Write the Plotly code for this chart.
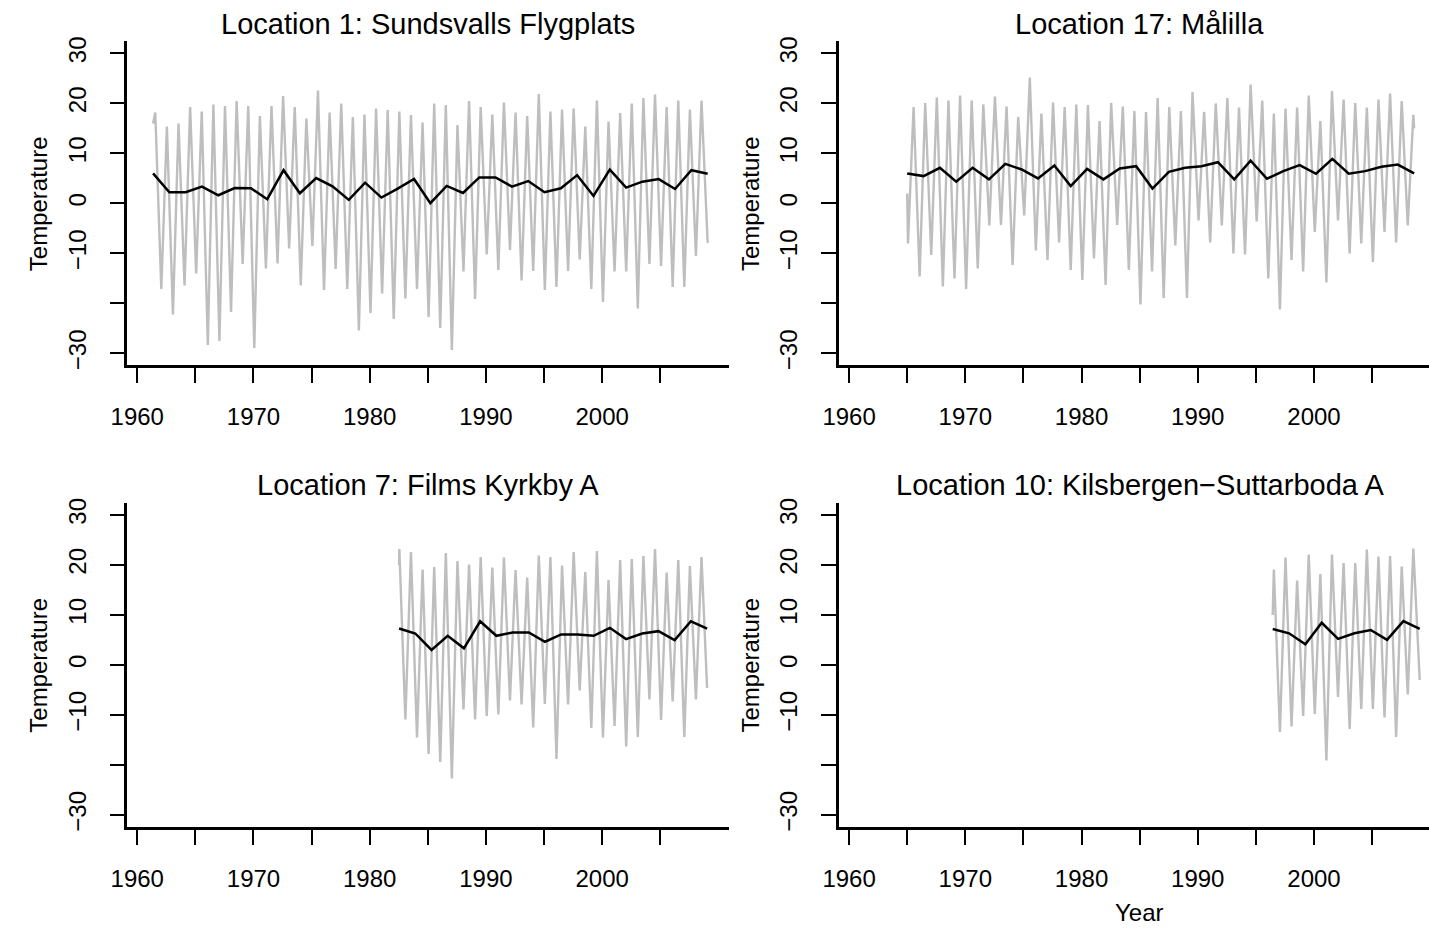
import numpy as np
import plotly.graph_objects as go

# ---------------- data ----------------
# Location 1: Sundsvalls Flygplats
loc1_years = list(range(1961, 2009))
loc1_summer_max = [18.2, 15.4, 16.0, 19.3, 18.4, 19.8, 19.5, 20.5, 19.5, 17.5,
                   19.5, 21.5, 19.3, 17.0, 22.6, 18.2, 20.0, 17.3, 17.8, 19.0,
                   18.7, 18.4, 17.7, 16.2, 20.0, 19.7, 15.7, 20.5, 19.3, 17.8,
                   20.2, 18.2, 17.5, 21.9, 18.4, 18.8, 19.0, 15.4, 20.6, 16.4,
                   18.1, 20.0, 21.1, 21.8, 19.3, 20.6, 18.8, 20.6]
loc1_winter_min = [None, -17.1, -22.2, -16.4, -14.0, -28.3, -27.5, -21.7, -12.1, -28.9,
                   -13.0, -12.0, -9.0, -16.4, -8.5, -17.3, -13.1, -17.1, -25.4, -21.9,
                   -18.0, -23.1, -19.0, -17.1, -22.7, -24.9, -29.3, -13.6, -19.1, -10.2,
                   -13.3, -9.3, -15.4, -13.5, -17.3, -16.7, -13.5, -11.2, -17.1, -19.7,
                   -13.6, -13.6, -21.0, -12.1, -12.5, -16.7, -16.7, -10.5]
loc1_span = [1961.36, 2009.08]
loc1_first_last = [16.0, -7.9]
loc1_means = [6.0, 2.24, 2.24, 3.36, 1.64, 3.09, 3.03, 0.85, 6.65, 2.04,
              5.07, 3.42, 0.72, 4.15, 1.18, 2.95, 4.9, 0.06, 3.5, 2.1,
              5.2, 5.2, 3.36, 4.48, 2.24, 3.03, 5.66, 1.51, 6.78, 3.16,
              4.35, 4.87, 2.89, 6.65, 5.93]

# Location 17: Målilla
loc17_years = list(range(1965, 2009))
loc17_summer_max = [19.3, 20.1, 21.2, 20.6, 21.6, 20.6, 19.8, 21.4, 19.4, 17.3,
                    25.2, 18.0, 20.2, 19.3, 19.8, 19.7, 16.5, 20.1, 19.4, 18.5,
                    18.3, 21.1, 19.3, 18.5, 22.3, 18.3, 20.0, 21.1, 19.2, 23.8,
                    20.6, 18.0, 19.0, 19.2, 21.6, 16.5, 22.5, 20.8, 20.1, 19.2,
                    20.8, 22.0, 20.5, 17.7]
loc17_winter_min = [-8.0, -14.6, -10.3, -16.6, -15.0, -17.1, -13.0, -4.4, -4.3, -12.3,
                    -2.4, -9.4, -11.3, -7.8, -13.3, -15.3, -11.0, -16.3, -4.3, -13.3,
                    -20.2, -13.6, -18.9, -8.4, -18.9, -3.4, -7.8, -4.4, -10.0, -10.2,
                    -3.6, -15.0, -21.2, -11.3, -13.6, -5.7, -15.8, -3.4, -10.0, -8.0,
                    -11.7, -5.7, -7.8, -4.4]
loc17_span = [1965.0, 2008.62]
loc17_first_last = [2.0, 15.0]
loc17_means = [6.0, 5.47, 7.12, 4.35, 7.12, 4.81, 7.91, 6.79, 5.01, 7.58,
               3.49, 6.9, 4.81, 6.99, 7.45, 2.97, 6.33, 7.12, 7.45, 8.24,
               4.81, 8.57, 4.94, 6.46, 7.65, 5.93, 8.9, 5.93, 6.46, 7.32,
               7.78, 6.0]

# Location 7: Films Kyrkby A
loc7_years = list(range(1982, 2009))
loc7_summer_max = [23.2, 22.6, 19.1, 19.6, 22.4, 20.8, 20.1, 21.6, 19.5, 21.5,
                   19.0, 17.5, 21.9, 21.6, 19.9, 22.6, 18.6, 22.8, 17.0, 21.0,
                   21.2, 21.8, 23.2, 18.5, 21.0, 19.8, 21.6]
loc7_winter_min = [None, -10.9, -14.5, -17.8, -19.4, -22.7, -8.9, -10.9, -10.2, -9.9,
                   -7.1, -7.9, -12.5, -7.8, -18.8, -7.9, -5.1, -12.6, -14.5, -12.2,
                   -16.3, -14.4, -6.9, -11.0, -7.3, -14.4, -6.9]
loc7_span = [1982.53, 2009.03]
loc7_first_last = [20.0, -4.6]
loc7_means = [7.28, 6.29, 2.99, 5.83, 3.32, 8.73, 5.83, 6.49, 6.49, 4.64,
              6.1, 6.1, 5.83, 7.42, 5.17, 6.29, 6.76, 4.98, 8.73, 7.28]

# Location 10: Kilsbergen-Suttarboda A
loc10_years = list(range(1996, 2009))
loc10_summer_max = [19.1, 21.5, 16.9, 22.1, 18.2, 22.1, 20.4, 20.4, 23.1, 21.7,
                    21.8, 19.7, 23.3]
loc10_winter_min = [None, -13.4, -12.3, -10.2, -9.8, -19.1, -6.4, -12.8, -8.8, -8.8,
                    -10.5, -14.4, -5.9]
loc10_span = [1996.45, 2009.1]
loc10_first_last = [10.0, -3.0]
loc10_means = [7.19, 6.33, 4.15, 8.44, 5.21, 6.33, 6.99, 5.01, 8.77, 7.19]

titles = ["Location 1: Sundsvalls Flygplats", "Location 17: Målilla",
          "Location 7: Films Kyrkby A", "Location 10: Kilsbergen\u2212Suttarboda A"]
x_ticks = [1960, 1965, 1970, 1975, 1980, 1985, 1990, 1995, 2000, 2005]
x_tick_text = ["1960", "", "1970", "", "1980", "", "1990", "", "2000", ""]
y_ticks = [-30, -20, -10, 0, 10, 20, 30]
y_tick_text = ["\u221230", "", "\u221210", "0", "10", "20", "30"]

# ---------------- layout constants ----------------
W, H = 1429, 933
WIN_PHASE, SUM_PHASE = 0.07, 0.55
FONT = "Liberation Sans, Arial, Helvetica, sans-serif"
GREY = "#BEBEBE"


def grey_series(years, smax, smin, span, first_last):
    t = [span[0]]
    v = [first_last[0]]
    for yr, hi, lo in zip(years, smax, smin):
        if lo is not None and yr + WIN_PHASE > t[-1]:
            t.append(yr + WIN_PHASE)
            v.append(lo)
        if yr + SUM_PHASE > t[-1]:
            t.append(yr + SUM_PHASE)
            v.append(hi)
    t.append(span[1])
    v.append(first_last[1])
    return t, v


panels = [
    dict(years=loc1_years, smax=loc1_summer_max, smin=loc1_winter_min, span=loc1_span,
         fl=loc1_first_last, means=loc1_means, col=0, row=0),
    dict(years=loc17_years, smax=loc17_summer_max, smin=loc17_winter_min, span=loc17_span,
         fl=loc17_first_last, means=loc17_means, col=1, row=0),
    dict(years=loc7_years, smax=loc7_summer_max, smin=loc7_winter_min, span=loc7_span,
         fl=loc7_first_last, means=loc7_means, col=0, row=1),
    dict(years=loc10_years, smax=loc10_summer_max, smin=loc10_winter_min, span=loc10_span,
         fl=loc10_first_last, means=loc10_means, col=1, row=1),
]

# pixel geometry of the plot regions
col_x0 = [111.6, 831.7]          # left edge of plot box
col_x1 = [721.0, 1429.0]         # right edge (right column is cut by the page)
col_tick1960 = [121.7, 842.1]
px_per_year = 11.762
row_center = [200.6, 667.1]
px_per_deg = 5.055
Y_HALF = 32.4

fig = go.Figure()
layout = dict(width=W, height=H, margin=dict(l=0, r=0, t=0, b=0),
              paper_bgcolor="white", plot_bgcolor="white", showlegend=False,
              font=dict(family=FONT, color="black"))
annotations = []

for i, p in enumerate(panels):
    k = "" if i == 0 else str(i + 1)
    c, r = p["col"], p["row"]
    t, v = grey_series(p["years"], p["smax"], p["smin"], p["span"], p["fl"])
    fig.add_trace(go.Scatter(x=t, y=v, mode="lines", line=dict(color=GREY, width=2.4),
                             xaxis="x" + k, yaxis="y" + k, hoverinfo="skip"))
    mx = np.linspace(p["span"][0], p["span"][1], len(p["means"]))
    fig.add_trace(go.Scatter(x=mx, y=p["means"], mode="lines",
                             line=dict(color="black", width=2.5),
                             xaxis="x" + k, yaxis="y" + k, hoverinfo="skip"))

    x0 = 1960 + (col_x0[c] - col_tick1960[c]) / px_per_year
    x1 = 1960 + (col_x1[c] - col_tick1960[c]) / px_per_year
    ytop = row_center[r] - Y_HALF * px_per_deg
    ybot = row_center[r] + Y_HALF * px_per_deg
    layout["xaxis" + k] = dict(
        domain=[col_x0[c] / W, col_x1[c] / W], range=[x0, x1], anchor="y" + k,
        showline=True, linecolor="black", linewidth=2.5, showgrid=False, zeroline=False,
        ticks="outside", ticklen=15, tickwidth=2, tickcolor="black",
        tickvals=x_ticks, ticktext=x_tick_text, tickfont=dict(size=24, family=FONT),
        ticklabelstandoff=13)
    layout["yaxis" + k] = dict(
        domain=[1 - ybot / H, 1 - ytop / H], range=[-Y_HALF, Y_HALF], anchor="x" + k,
        showline=True, linecolor="black", linewidth=2.5, showgrid=False, zeroline=False,
        ticks="outside", ticklen=15, tickwidth=2, tickcolor="black",
        tickvals=y_ticks, ticktext=y_tick_text, tickangle=-90,
        tickfont=dict(size=24, family=FONT), ticklabelstandoff=14)

    annotations.append(dict(text=titles[i], xref="paper", yref="paper",
                            x=(col_x0[c] + col_x0[c] + 609.4) / 2 / W,
                            y=1 - (19 + 466.5 * r) / H, xanchor="center", yanchor="middle",
                            showarrow=False, font=dict(size=29, family=FONT)))
    annotations.append(dict(text="Temperature", xref="paper", yref="paper",
                            x=(22 + 720.4 * c) / W, y=1 - row_center[r] / H,
                            xanchor="center", yanchor="middle", textangle=-90,
                            showarrow=False, font=dict(size=24, family=FONT)))

annotations.append(dict(text="Year", xref="paper", yref="paper",
                        x=(col_x0[1] + 304.7) / W, y=1 - 917 / H,
                        xanchor="center", yanchor="middle", showarrow=False,
                        font=dict(size=24, family=FONT)))
layout["annotations"] = annotations
fig.update_layout(**layout)
fig.write_html("out.html")
